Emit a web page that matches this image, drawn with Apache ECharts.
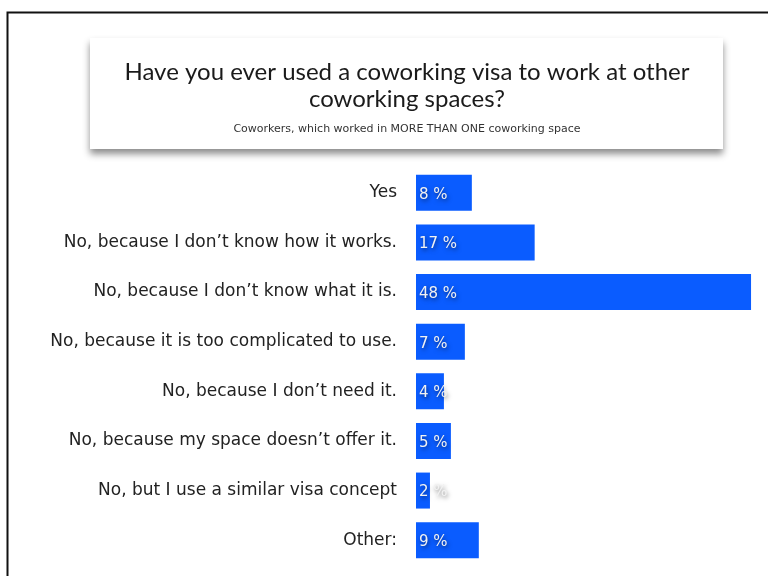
<!DOCTYPE html>
<html>
<head>
<meta charset="utf-8">
<script src="https://cdn.jsdelivr.net/npm/echarts@6/dist/echarts.min.js"></script>
<style>
  html, body { margin: 0; padding: 0; background: #fff; }
  #chart { width: 768px; height: 576px; }
</style>
</head>
<body>
<div id="chart"></div>
<script>
// Survey answers, top to bottom
const categories = [
  'Yes',
  'No, because I don\u2019t know how it works.',
  'No, because I don\u2019t know what it is.',
  'No, because it is too complicated to use.',
  'No, because I don\u2019t need it.',
  'No, because my space doesn\u2019t offer it.',
  'No, but I use a similar visa concept',
  'Other:'
];
// Share of respondents, in percent
const shares = [8, 17, 48, 7, 4, 5, 2, 9];

const titleLines = ['Have you ever used a coworking visa to work at other', 'coworking spaces?'];
const subtitle = 'Coworkers, which worked in MORE THAN ONE coworking space';

const TITLE_FONT = 'Lato, "Open Sans", sans-serif';
const BODY_FONT = '"DejaVu Sans", Verdana, sans-serif';

const chart = echarts.init(document.getElementById('chart'), null, { renderer: 'canvas' });

chart.setOption({
  animation: false,
  backgroundColor: '#ffffff',
  grid: { left: 416, top: 168, width: 349, height: 397, containLabel: false },
  xAxis: {
    type: 'value', min: 0, max: 50,
    show: false
  },
  yAxis: {
    type: 'category',
    data: categories,
    inverse: true,
    axisLine: { show: false },
    axisTick: { show: false },
    splitLine: { show: false },
    axisLabel: {
      margin: 19,
      color: '#222222',
      fontFamily: BODY_FONT,
      fontSize: 17,
      padding: [4, 0, 0, 0]
    }
  },
  series: [{
    type: 'bar',
    data: shares,
    barWidth: 36,
    itemStyle: { color: '#0a5cff' },
    label: {
      show: true,
      position: 'insideLeft',
      distance: 3,
      offset: [0, 2],
      formatter: p => p.value + ' %',
      color: '#f2f2f2',
      fontFamily: BODY_FONT,
      fontSize: 15,
      textShadowColor: 'rgba(0,0,0,0.55)',
      textShadowBlur: 4,
      textShadowOffsetX: 1,
      textShadowOffsetY: 2
    }
  }],
  graphic: [
    // outer frame
    {
      type: 'rect', z: 0,
      shape: { x: 7.5, y: 12.5, width: 800, height: 600 },
      style: { fill: 'none', stroke: '#111111', lineWidth: 2 }
    },
    // title card with drop shadow
    {
      type: 'rect', z: 1,
      shape: { x: 90, y: 38, width: 633, height: 111 },
      style: {
        fill: '#ffffff',
        shadowColor: 'rgba(0,0,0,0.45)',
        shadowBlur: 7,
        shadowOffsetY: 5
      }
    },
    {
      type: 'text', z: 2,
      x: 407, y: 72,
      style: {
        text: titleLines[0], align: 'center', verticalAlign: 'middle',
        font: '24px ' + TITLE_FONT, fill: '#1a1a1a'
      }
    },
    {
      type: 'text', z: 2,
      x: 407, y: 99,
      style: {
        text: titleLines[1], align: 'center', verticalAlign: 'middle',
        font: '24px ' + TITLE_FONT, fill: '#1a1a1a'
      }
    },
    {
      type: 'text', z: 2,
      x: 407, y: 129,
      style: {
        text: subtitle, align: 'center', verticalAlign: 'middle',
        font: '11px ' + BODY_FONT, fill: '#333333'
      }
    }
  ]
});
</script>
</body>
</html>
